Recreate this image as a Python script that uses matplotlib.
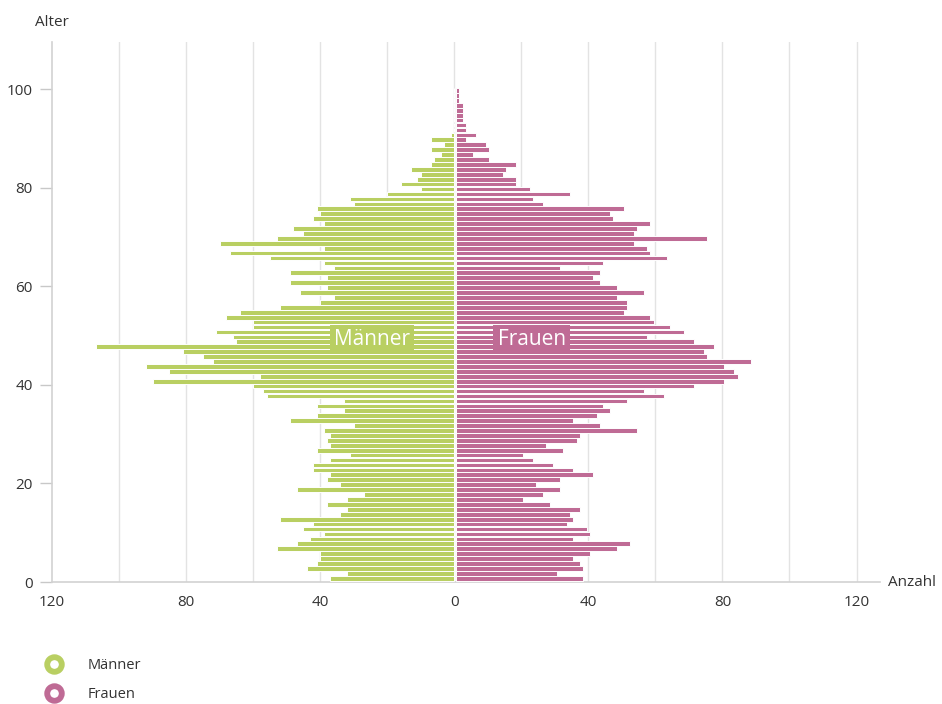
import numpy as np
import matplotlib.pyplot as plt
from matplotlib.lines import Line2D

plt.rcParams['font.family'] = ['Open Sans', 'DejaVu Sans']

# Alter 0..99, Anzahl je Jahrgang
ages = np.arange(0, 100)

maenner = [37, 32, 44, 41, 40, 40, 53, 47, 43, 39,
           45, 42, 52, 34, 32, 38, 32, 27, 47, 34,
           38, 37, 42, 42, 37, 31, 41, 37, 38, 37,
           39, 30, 49, 41, 33, 41, 33, 56, 57, 60,
           90, 58, 85, 92, 72, 75, 81, 107, 65, 66,
           71, 60, 60, 68, 64, 52, 40, 36, 46, 38,
           49, 38, 49, 36, 39, 55, 67, 39, 70, 53,
           45, 48, 39, 42, 40, 41, 30, 31, 20, 10,
           16, 11, 10, 13, 7, 6, 4, 7, 3, 7,
           1, 0, 0, 0, 0, 0, 0, 0, 0, 0]

frauen = [38, 30, 38, 37, 35, 40, 48, 52, 35, 40,
          39, 33, 35, 34, 37, 28, 20, 26, 31, 24,
          31, 41, 35, 29, 23, 20, 32, 27, 36, 37,
          54, 43, 35, 42, 46, 44, 51, 62, 56, 71,
          80, 84, 83, 80, 88, 75, 74, 77, 71, 57,
          68, 64, 59, 58, 50, 51, 51, 48, 56, 48,
          43, 41, 43, 31, 44, 63, 58, 57, 53, 75,
          53, 54, 58, 47, 46, 50, 26, 23, 34, 22,
          18, 18, 14, 15, 18, 10, 5, 10, 9, 3,
          6, 3, 3, 2, 2, 2, 2, 1, 1, 1]

x_ticks = [-120, -80, -40, 0, 40, 80, 120]
y_ticks = [0, 20, 40, 60, 80, 100]

green = "#b9cf62"
pink = "#bf6b95"
grid_col = "#e3e3e3"
text_col = "#333333"

fig = plt.figure(figsize=(9.42, 7.04), dpi=100)
ax = fig.add_axes([52 / 942, 122 / 704, 828 / 942, 540 / 704])

y = ages + 0.75
ax.barh(y, -np.array(maenner), height=0.95, color=green, edgecolor="white", linewidth=0.7, zorder=3)
ax.barh(y, frauen, height=0.95, left=0.5, color=pink, edgecolor="white", linewidth=0.7, zorder=3)

ax.set_xlim(-120, 127)
ax.set_ylim(0, 109.6)

# Gitterlinien alle 20
for gx in range(-100, 121, 20):
    ax.axvline(gx, color=grid_col, linewidth=1, zorder=1)

ax.set_xticks(x_ticks)
ax.set_xticklabels([str(abs(v)) for v in x_ticks])
ax.set_yticks(y_ticks)
ax.tick_params(axis="x", length=0, pad=9, labelsize=11, colors=text_col)
ax.tick_params(axis="y", length=9, width=1, color="#c8c8c8", pad=5, labelsize=11, labelcolor=text_col)

for s in ["top", "right"]:
    ax.spines[s].set_visible(False)
for s in ["left", "bottom"]:
    ax.spines[s].set_color("#d2d2d2")
    ax.spines[s].set_linewidth(1.2)

ax.text(-120, 113.5, "Alter", ha="center", va="center", fontsize=11, color=text_col, clip_on=False)
ax.text(129.5, 0, "Anzahl", ha="left", va="center", fontsize=11, color=text_col, clip_on=False)

# Beschriftung im Diagramm
ax.text(-24.6, 49.2, "Männer", ha="center", va="center", fontsize=15, color="white", zorder=5,
        bbox=dict(boxstyle="square,pad=0.2", facecolor=green, edgecolor="none"))
ax.text(23.1, 49.2, "Frauen", ha="center", va="center", fontsize=15, color="white", zorder=5,
        bbox=dict(boxstyle="square,pad=0.2", facecolor=pink, edgecolor="none"))

handles = [Line2D([], [], linestyle="none", marker="o", markersize=10.5, markerfacecolor="white",
                  markeredgecolor=green, markeredgewidth=4.2),
           Line2D([], [], linestyle="none", marker="o", markersize=10.5, markerfacecolor="white",
                  markeredgecolor=pink, markeredgewidth=4.2)]
fig.legend(handles, ["Männer", "Frauen"], loc="upper left", bbox_to_anchor=(34 / 942, 1 - 652 / 704),
           frameon=False, fontsize=10.5, labelcolor=text_col, handletextpad=1.3, labelspacing=0.95,
           borderaxespad=0)

plt.savefig("out.png", dpi=100)
